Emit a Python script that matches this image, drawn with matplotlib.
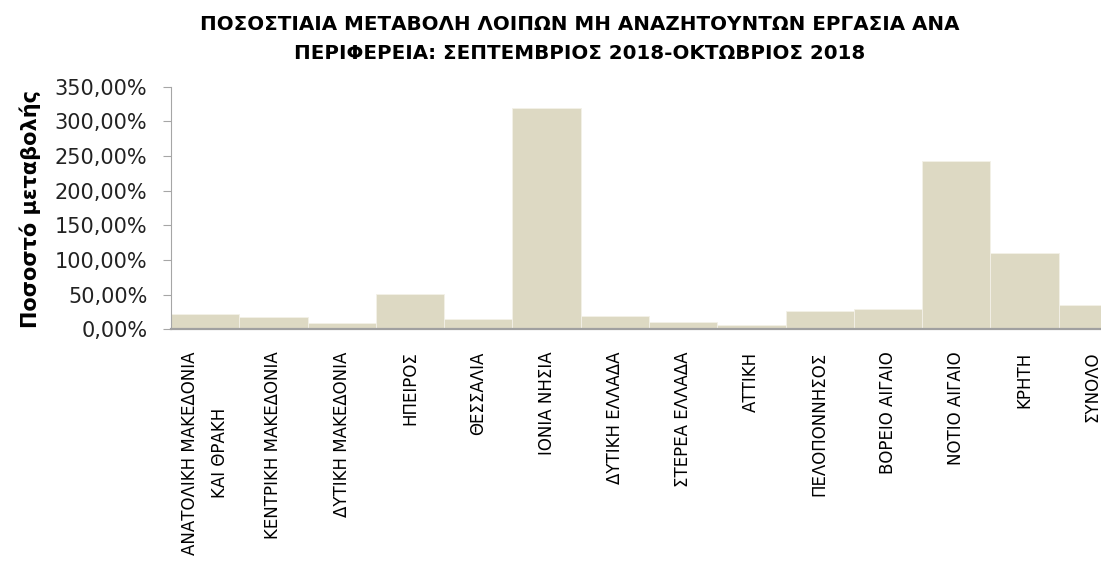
import matplotlib
matplotlib.use("Agg")
import matplotlib.pyplot as plt
from matplotlib.ticker import FuncFormatter, MultipleLocator
import numpy as np

# ποσοστιαία μεταβολή ανά περιφέρεια (%)
regions = ['ΑΝΑΤΟΛΙΚΗ ΜΑΚΕΔΟΝΙΑ\nΚΑΙ ΘΡΑΚΗ', 'ΚΕΝΤΡΙΚΗ ΜΑΚΕΔΟΝΙΑ', 'ΔΥΤΙΚΗ ΜΑΚΕΔΟΝΙΑ',
           'ΗΠΕΙΡΟΣ', 'ΘΕΣΣΑΛΙΑ', 'ΙΟΝΙΑ ΝΗΣΙΑ', 'ΔΥΤΙΚΗ ΕΛΛΑΔΑ', 'ΣΤΕΡΕΑ ΕΛΛΑΔΑ',
           'ΑΤΤΙΚΗ', 'ΠΕΛΟΠΟΝΝΗΣΟΣ', 'ΒΟΡΕΙΟ ΑΙΓΑΙΟ', 'ΝΟΤΙΟ ΑΙΓΑΙΟ', 'ΚΡΗΤΗ', 'ΣΥΝΟΛΟ']
change = [22.0, 18.2, 9.5, 50.4, 14.8, 319.0, 19.2, 11.0, 6.0, 26.0, 29.7, 242.9, 109.7, 35.1]

title = 'ΠΟΣΟΣΤΙΑΙΑ ΜΕΤΑΒΟΛΗ ΛΟΙΠΩΝ ΜΗ ΑΝΑΖΗΤΟΥΝΤΩΝ ΕΡΓΑΣΙΑ ΑΝΑ\nΠΕΡΙΦΕΡΕΙΑ: ΣΕΠΤΕΜΒΡΙΟΣ 2018-ΟΚΤΩΒΡΙΟΣ 2018'
ylabel = 'Ποσοστό μεταβολής'

plt.rcParams['font.family'] = ['DejaVu Sans']

fig = plt.figure(figsize=(11.01, 5.71), dpi=100)
ax = fig.add_axes([171 / 1101, 1 - 329.3 / 571, 1 - 171 / 1101, (329.3 - 86.7) / 571])

x = np.arange(len(regions))
ax.bar(x, change, width=1.0, color='#DDD9C3', edgecolor='#F3F1E8', linewidth=0.6)

ax.set_xlim(-0.5, (1101 - 170.7) / 68.3 - 0.5)
ax.set_ylim(0, 350)
ax.yaxis.set_major_locator(MultipleLocator(50))
ax.yaxis.set_major_formatter(FuncFormatter(lambda v, p: f'{v:.2f}'.replace('.', ',') + '%'))

ax.set_xticks(x)
ax.set_xticklabels(regions, rotation=90, fontsize=12, color='#000000',
                   multialignment='center', linespacing=1.85)
ax.tick_params(axis='x', length=0, pad=16)
ax.tick_params(axis='y', length=5.5, width=0.8, color='#A6A6A6', pad=11.5,
               labelsize=15, labelcolor='#222222')

for s in ['top', 'right']:
    ax.spines[s].set_visible(False)
ax.spines['left'].set_color('#A6A6A6')
ax.spines['left'].set_linewidth(0.8)
ax.spines['bottom'].set_color('#A0A0A0')
ax.spines['bottom'].set_linewidth(1.6)

fig.text(30 / 1101, 1 - 209 / 571, ylabel, rotation=90, ha='center', va='center',
         fontsize=15, fontweight='bold')
fig.text(580 / 1101, 1 - 39 / 571, title, ha='center', va='center',
         fontsize=14.3, fontweight='bold', linespacing=1.65)

fig.savefig('out.png', dpi=100)
